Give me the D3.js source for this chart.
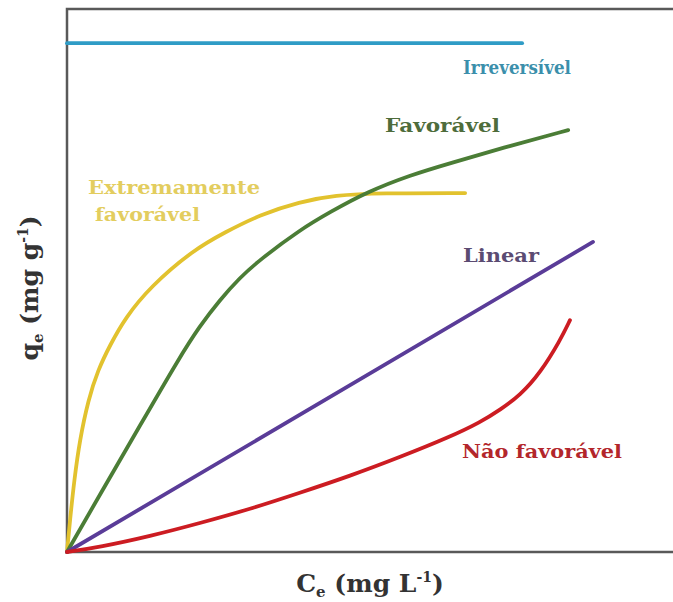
<!DOCTYPE html>
<html>
<head>
<meta charset="utf-8">
<script src="https://cdn.jsdelivr.net/npm/d3@7"></script>
<style>
  body { margin: 0; background: #fff; }
  text { font-family: "DejaVu Serif", "Liberation Serif", serif; font-weight: bold; }
</style>
</head>
<body>
<script>
// isotherm curves (x: Ce, y: qe, both 0-100 arbitrary units)
var irreversivel = [[0, 93.7], [75.1, 93.7]];
var extremamente = [[0, 0], [0.5, 5.9], [1.2, 13.3], [2.1, 20.6], [3.5, 28.0], [5.1, 33.5], [7.1, 38.1],
  [9.6, 43.1], [13.7, 48.8], [20.8, 55.6], [26.1, 58.9], [31.8, 62.1], [38.4, 64.5], [44.2, 65.7],
  [51.7, 66.1], [65.7, 66.1]];
var favoravel = [[0, 0], [5.4, 10.5], [12.0, 23.2], [18.6, 35.9], [21.9, 41.6], [25.2, 46.4], [28.5, 50.5],
  [31.8, 53.8], [38.4, 59.3], [43.4, 62.6], [49.5, 66.3], [56.6, 69.4], [63.2, 71.6], [73.1, 74.8], [82.7, 77.7]];
var linear = [[0, 0], [86.8, 57.1]];
var naoFavoravel = [[0, 0], [5.4, 0.9], [13.7, 2.9], [21.9, 5.3], [30.2, 7.9], [38.4, 10.9], [46.7, 14.0],
  [55.0, 17.5], [63.2, 21.2], [68.2, 23.9], [71.5, 26.2], [74.8, 28.9], [78.1, 33.0], [81.4, 39.0], [83.0, 42.7]];

var series = [
  {name: "Irreversível", data: irreversivel, color: "#2f9cc6"},
  {name: "Extremamente favorável", data: extremamente, color: "#e2c22e"},
  {name: "Favorável", data: favoravel, color: "#4b7d36"},
  {name: "Linear", data: linear, color: "#5a3c98"},
  {name: "Não favorável", data: naoFavoravel, color: "#cc1c22"}
];

var labels = [
  {lines: ["Irreversível"], x: 463, y: 74, color: "#3b8fab", w: [108]},
  {lines: ["Favorável"], x: 385, y: 132, color: "#4e6c3b", w: [115]},
  {lines: ["Extremamente", "favorável"], x: 88, y: 194, color: "#e3cd5e", w: [172, 105], dx: [0, 7]},
  {lines: ["Linear"], x: 463, y: 262, color: "#5b4b72", w: [76]},
  {lines: ["Não favorável"], x: 462, y: 458, color: "#b3262b", w: [160]}
];

var width = 673, height = 602;
var margin = {top: 9, left: 67, bottom: 50};

var svg = d3.select("body").append("svg")
  .attr("width", width)
  .attr("height", height);

var x = d3.scaleLinear().domain([0, 100]).range([margin.left, width]);
var y = d3.scaleLinear().domain([0, 100]).range([height - margin.bottom, margin.top]);

// frame, open on the right like the original
svg.append("path")
  .attr("fill", "none")
  .attr("stroke", "#595959")
  .attr("stroke-width", 2.5)
  .attr("d", d3.line()([[width, y(100)], [x(0), y(100)], [x(0), y(0)], [width, y(0)]]));

var line = d3.line()
  .x(function(d) { return x(d[0]); })
  .y(function(d) { return y(d[1]); })
  .curve(d3.curveBasis);

svg.append("g").selectAll("path")
  .data(series)
  .enter()
  .append("path")
  .attr("fill", "none")
  .attr("stroke", function(d) { return d.color; })
  .attr("stroke-width", 3.8)
  .attr("stroke-linecap", "round")
  .attr("d", function(d) { return line(d.data); });

labels.forEach(function(l) {
  l.lines.forEach(function(t, i) {
    svg.append("text")
      .attr("x", l.x + (l.dx ? l.dx[i] : 0))
      .attr("y", l.y + i * 27)
      .attr("fill", l.color)
      .attr("font-size", 19)
      .attr("textLength", l.w[i])
      .attr("lengthAdjust", "spacingAndGlyphs")
      .text(t);
  });
});

// axis titles
var xt = svg.append("text")
  .attr("x", 370)
  .attr("y", 592)
  .attr("text-anchor", "middle")
  .attr("font-size", 25)
  .attr("fill", "#333");
xt.append("tspan").text("C");
xt.append("tspan").attr("font-size", 15).attr("dy", 5).text("e");
xt.append("tspan").attr("dy", -5).text(" (mg L");
xt.append("tspan").attr("font-size", 14).attr("dy", -10).text("-1");
xt.append("tspan").attr("dy", 10).text(")");

var yt = svg.append("text")
  .attr("transform", "translate(38,288) rotate(-90)")
  .attr("text-anchor", "middle")
  .attr("font-size", 25)
  .attr("fill", "#333");
yt.append("tspan").text("q");
yt.append("tspan").attr("font-size", 15).attr("dy", 5).text("e");
yt.append("tspan").attr("dy", -5).text(" (mg g");
yt.append("tspan").attr("font-size", 14).attr("dy", -10).text("-1");
yt.append("tspan").attr("dy", 10).text(")");
</script>
</body>
</html>
